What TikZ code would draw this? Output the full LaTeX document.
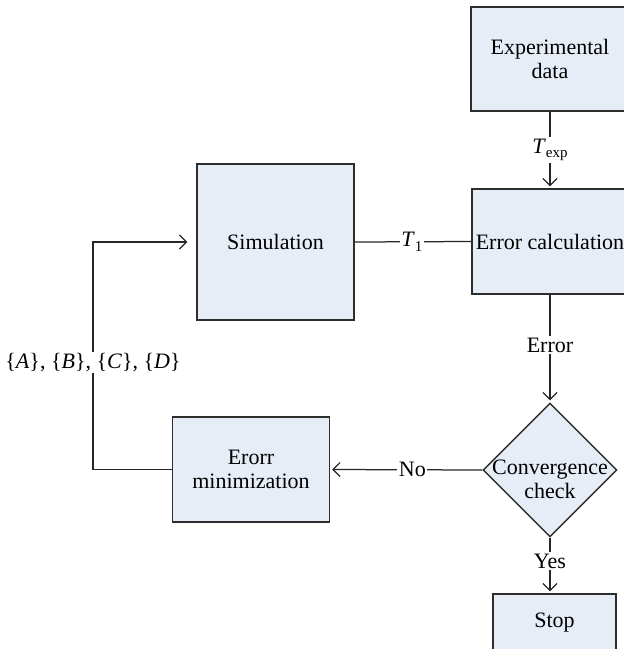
\documentclass[tikz,border=0pt]{standalone}
\usepackage{fontspec}
\setmainfont{Liberation Serif}
\usetikzlibrary{shapes.geometric,arrows.meta}
\definecolor{boxfill}{RGB}{230,237,246}
\definecolor{boxline}{RGB}{45,45,45}
\newcommand\mysubtxt[1]{\raisebox{-4.5pt}{\fontsize{15}{15}\selectfont #1}}
\tikzset{
  box/.style={draw=boxline,fill=boxfill,line width=1.4pt,inner sep=0pt,align=center},
  decision/.style={diamond,draw=boxline,fill=boxfill,line width=1.4pt,inner sep=0pt,minimum width=134pt,minimum height=134pt},
  conn/.style={draw=black!85,line width=1.25pt},
  arr/.style={conn,-{Straight Barb[length=7pt,width=14pt,line width=1.2pt]},shorten >=2pt},
  lbl/.style={fill=white,inner sep=1.5pt,font=\fontsize{22}{24}\selectfont}
}
\begin{document}
\begin{tikzpicture}[x=1pt,y=-1pt,font=\fontsize{22}{24}\selectfont]
\useasboundingbox (0,0) rectangle (624,649);
\clip (0,0) rectangle (624,649);
\node[box,minimum width=158pt,minimum height=104pt] (exp) at (550,59) {Experimental\\data};
\node[box,minimum width=156pt,minimum height=105pt] (errc) at (550,241.5) {Error calculation};
\node[box,minimum width=157pt,minimum height=156pt] (sim) at (275.5,242) {Simulation};
\node[box,minimum width=157pt,minimum height=105pt] (ermin) at (251,469.5) {Erorr\\minimization};
\node[decision] (conv) at (550,470) {};
\node[align=center,inner sep=0pt] (convtxt) at (550,479) {Convergence\\check};
\node[box,minimum width=123pt,minimum height=58pt] (stop) at (554.5,623) {Stop};
\coordinate (fb) at (93,356);
\draw[arr] (exp.south) -- node[lbl] {\textit{T}\mysubtxt{exp}} (errc.north);
\draw[conn] (sim.east) -- node[lbl,pos=0.49] {\textit{T}\mysubtxt{1}} (errc.west);
\draw[arr] (errc.south) -- node[lbl,pos=0.47] {Error} (conv.north);
\draw[arr] (conv.west) -- node[lbl,pos=0.46] {No} (ermin.east);
\draw[arr] (conv.south) -- node[lbl,pos=0.42] {Yes} (conv.south |- stop.north);
\draw[arr,shorten >=9pt] (ermin.west) -| node[lbl,pos=0.735] {\{\textit{A}\}, \{\textit{B}\}, \{\textit{C}\}, \{\textit{D}\}} (fb |- sim.west) -- (sim.west);
\end{tikzpicture}
\end{document}
